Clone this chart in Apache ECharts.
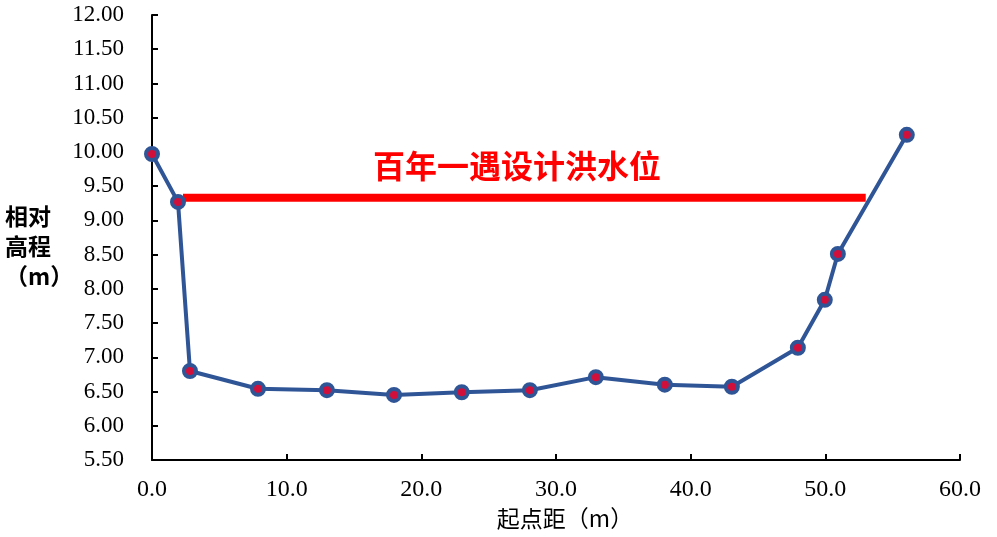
<!DOCTYPE html>
<html>
<head>
    <meta charset="utf-8">
    <title>ECharts</title>
    <script src="https://cdn.jsdelivr.net/npm/echarts@6/dist/echarts.min.js"></script>
</head>
<body style="margin:0">
    <div id="main" style="width: 997px;height:537px;"></div>
    <script type="text/javascript">

// section survey: distance from start (m) vs relative elevation (m)
var distances = [0, 1.93, 2.82, 7.87, 12.99, 17.97, 23.0, 28.06, 32.96, 38.08, 43.06, 47.96, 49.96, 50.93, 56.05];
var elevations = [9.97, 9.27, 6.80, 6.54, 6.52, 6.45, 6.49, 6.52, 6.71, 6.60, 6.57, 7.14, 7.84, 8.51, 10.25];

// 100-year design flood level
var floodX = [2.3, 53.0];
var floodLevel = 9.33;
var floodName = '百年一遇设计洪水位';

var myChart = echarts.init(document.getElementById('main'));

var numFont = '"Liberation Serif", "Times New Roman", serif';
var cjkFont = '"Noto Sans CJK SC", "Liberation Serif", serif';

var sectionData = distances.map(function (d, i) { return [d, elevations[i]]; });
var floodData = floodX.map(function (d) { return [d, floodLevel]; });

var option = {
    animation: false,
    grid: { left: 152, right: 37, top: 15, bottom: 77, outerBoundsMode: 'none', containLabel: false },
    xAxis: {
        type: 'value',
        min: 0, max: 60, interval: 10,
        name: '起点距（m）',
        nameLocation: 'middle',
        nameGap: 46,
        nameTextStyle: { fontFamily: cjkFont, fontSize: 23, color: '#000', padding: [0, 0, 0, 18] },
        axisLine: { lineStyle: { color: '#000', width: 2 } },
        axisTick: { inside: true, length: 6, lineStyle: { color: '#000', width: 2 } },
        axisLabel: {
            fontFamily: numFont, fontSize: 24, color: '#000', margin: 18,
            formatter: function (v) { return v.toFixed(1); }
        },
        splitLine: { show: false }
    },
    yAxis: {
        type: 'value',
        min: 5.5, max: 12, interval: 0.5,
        axisLine: { show: true, lineStyle: { color: '#000', width: 2 } },
        axisTick: { show: true, inside: true, length: 6, lineStyle: { color: '#000', width: 2 } },
        axisLabel: {
            fontFamily: numFont, fontSize: 23, color: '#000', margin: 28,
            formatter: function (v) { return v.toFixed(2); }
        },
        splitLine: { show: false }
    },
    graphic: [
        {
            type: 'text', left: 5, top: 201,
            style: {
                text: '相对\n高程\n（m）',
                font: 'bold 23px ' + cjkFont,
                lineHeight: 30,
                fill: '#000'
            }
        },
        {
            type: 'text', left: 373, top: 150,
            style: {
                text: floodName,
                font: 'bold 32px ' + cjkFont,
                fill: '#ff0000'
            }
        }
    ],
    series: [
        {
            type: 'line',
            data: floodData,
            symbol: 'none',
            lineStyle: { color: '#ff0000', width: 8 },
            z: 1
        },
        {
            type: 'line',
            data: sectionData,
            symbol: 'circle',
            symbolSize: 12,
            lineStyle: { color: '#2f5597', width: 4 },
            itemStyle: { color: '#d0103a', borderColor: '#2f5597', borderWidth: 4 },
            z: 2
        }
    ]
};

myChart.setOption(option);
    </script>
</body>
</html>
